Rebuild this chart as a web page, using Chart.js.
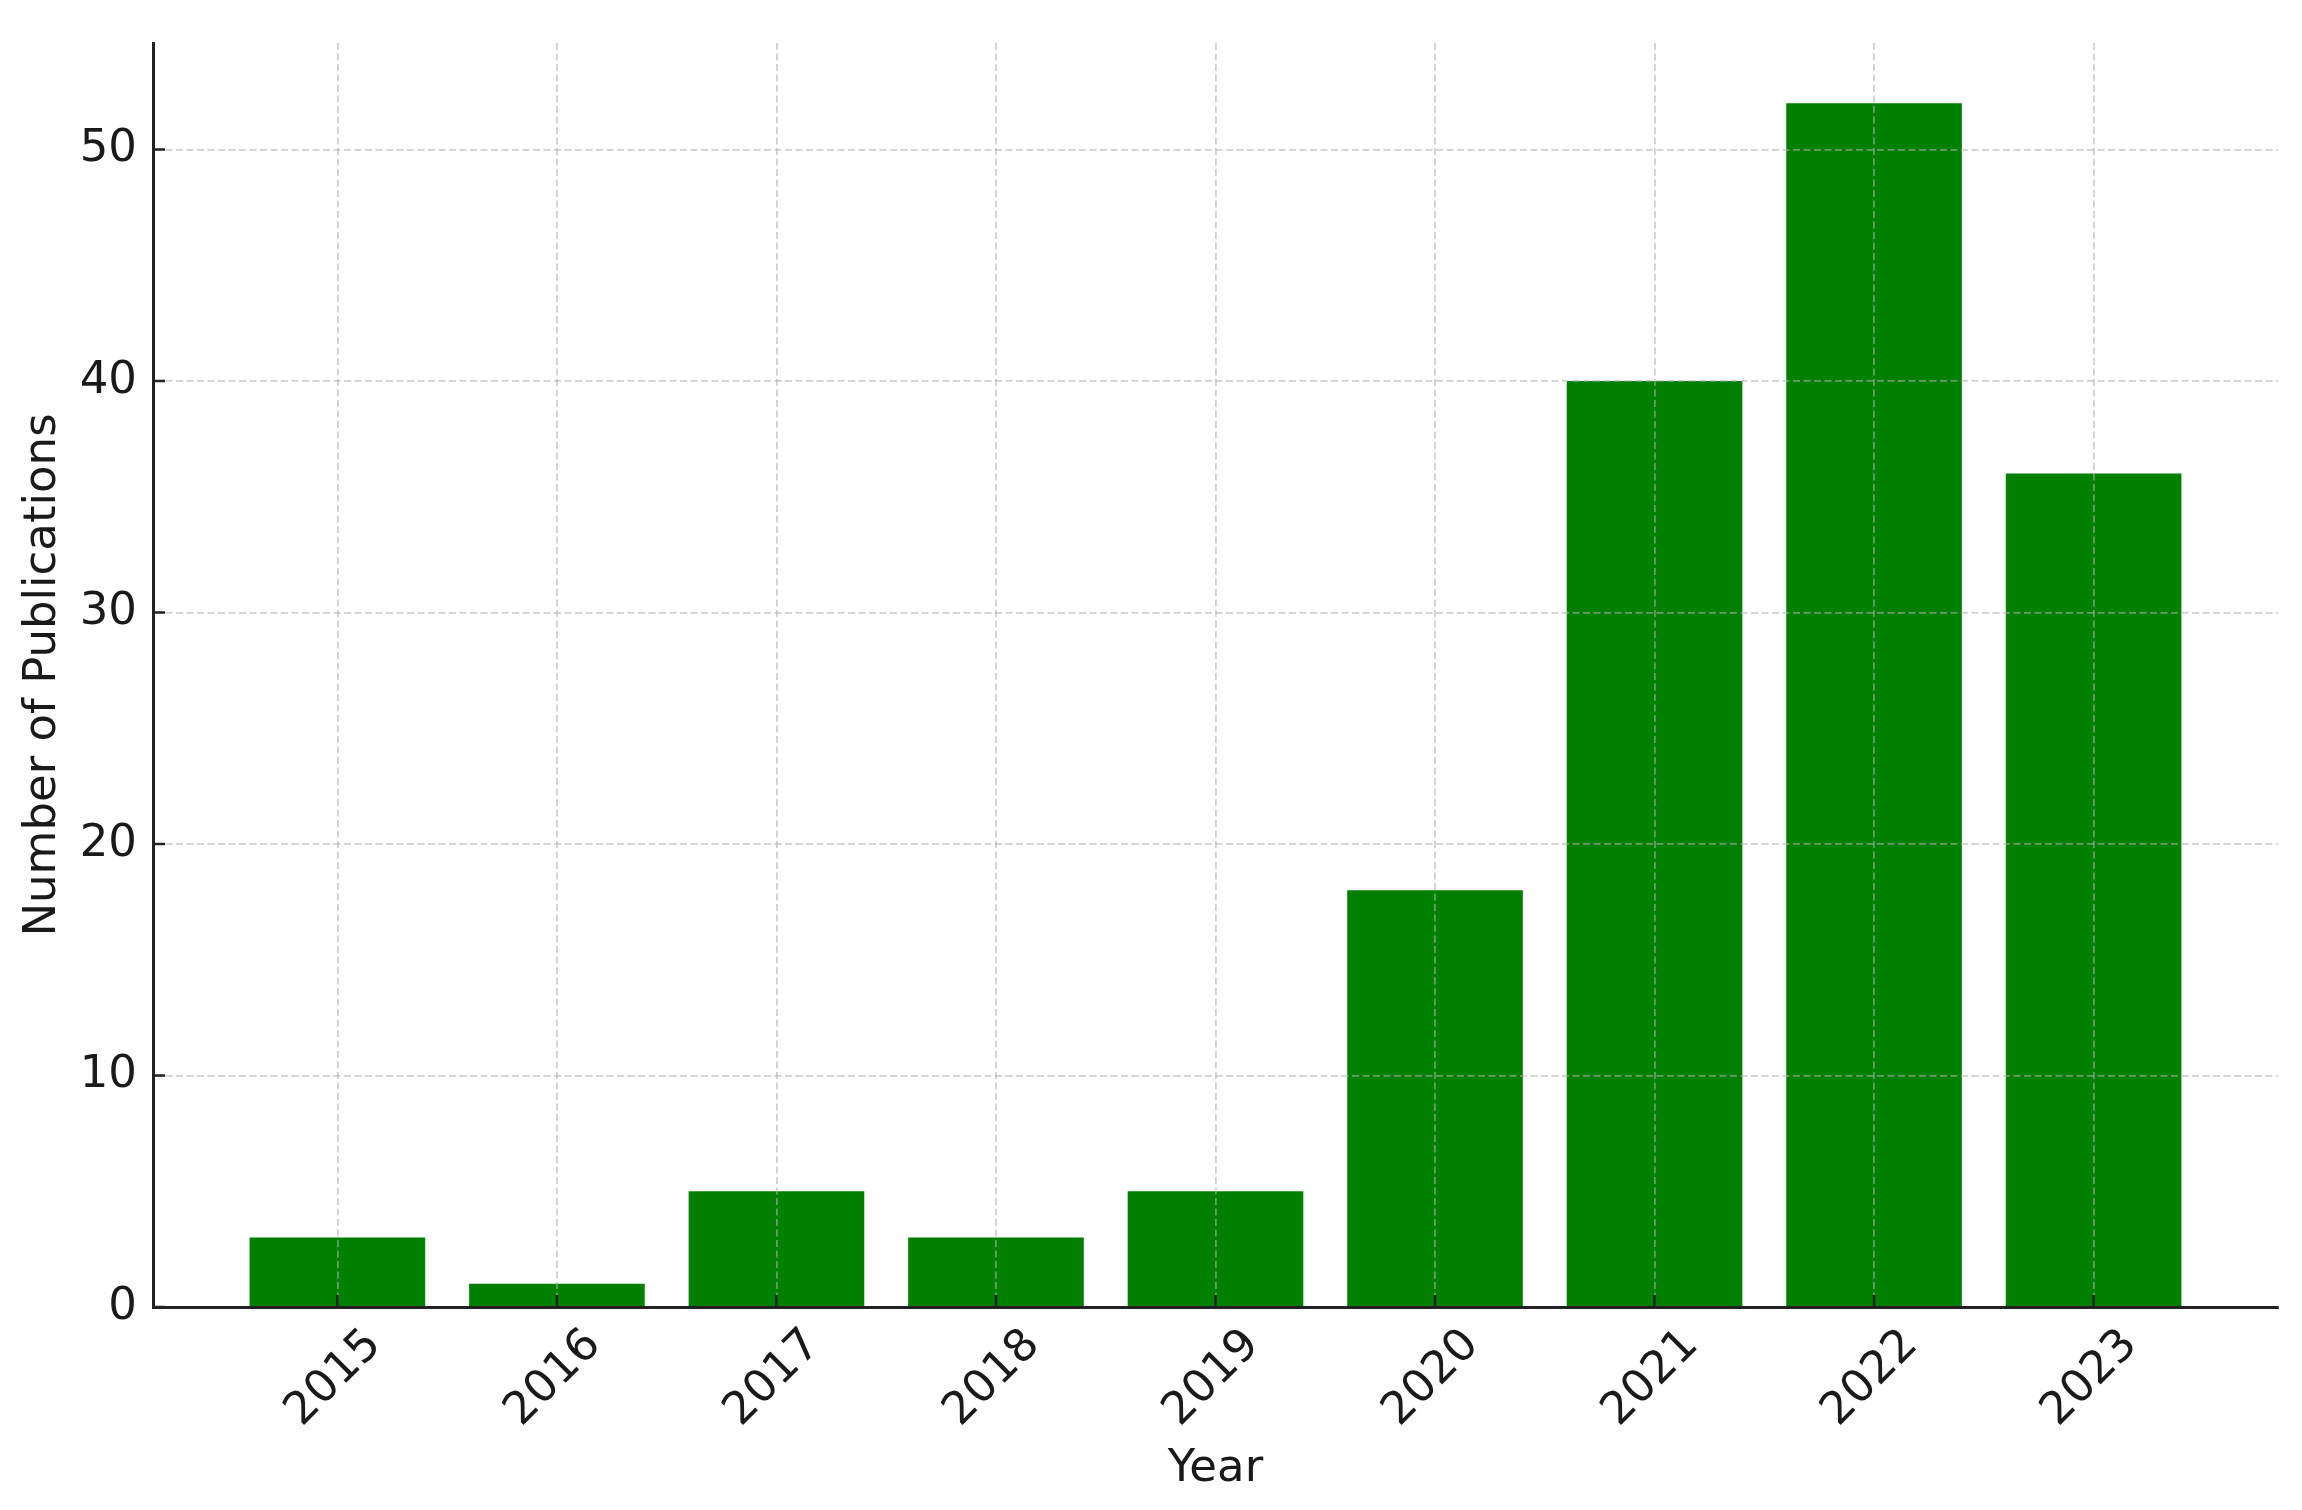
<!DOCTYPE html>
<html>
<head>
<meta charset="utf-8">
<script src="https://cdn.jsdelivr.net/npm/chart.js@4"></script>
<style>
  html, body { margin: 0; padding: 0; background: #fff; }
  #wrap { width: 2302px; height: 1510px; }
</style>
</head>
<body>
<div id="wrap"><canvas id="chart" width="2302" height="1510"></canvas></div>
<script>
// data
const years = [2015, 2016, 2017, 2018, 2019, 2020, 2021, 2022, 2023];
const publications = [3, 1, 5, 3, 5, 18, 40, 52, 36];
const yTicks = [0, 10, 20, 30, 40, 50];

const textColor = '#1a1a1a';
const axisColor = '#222222';
const gridColor = 'rgba(176,176,176,0.6)';
const fontSize = 45;

// small inward tick marks like the original
const innerTicks = {
  id: 'innerTicks',
  afterDraw(chart) {
    const ctx = chart.ctx;
    const area = chart.chartArea;
    const len = 12;
    ctx.save();
    ctx.strokeStyle = axisColor;
    ctx.lineWidth = 2.5;
    ctx.beginPath();
    chart.scales.x.ticks.forEach(t => {
      const px = chart.scales.x.getPixelForValue(t.value);
      ctx.moveTo(px, area.bottom);
      ctx.lineTo(px, area.bottom - len);
    });
    chart.scales.y.ticks.forEach(t => {
      const py = chart.scales.y.getPixelForValue(t.value);
      ctx.moveTo(area.left, py);
      ctx.lineTo(area.left + len, py);
    });
    ctx.stroke();
    ctx.restore();
  }
};

let ctx = document.getElementById('chart').getContext('2d');
chart = new Chart(ctx, {
  type: 'bar',
  data: {
    labels: years,
    datasets: [{
      data: publications,
      backgroundColor: '#008000',
      borderWidth: 0,
      categoryPercentage: 1,
      barPercentage: 0.8
    }]
  },
  options: {
    responsive: false,
    animation: false,
    devicePixelRatio: 1,
    layout: { padding: { top: 38, right: 24, left: 0, bottom: 0 } },
    plugins: {
      legend: { display: false },
      tooltip: { enabled: false }
    },
    scales: {
      x: {
        type: 'linear',
        offset: false,
        min: years[0] - 0.84,
        max: years[years.length - 1] + 0.84,
        afterBuildTicks: s => { s.ticks = years.map(v => ({ value: v })); },
        afterFit: s => { s.height = 203; },
        ticks: {
          callback: v => String(v),
          minRotation: 45,
          maxRotation: 45,
          autoSkip: false,
          labelOffset: 37,
          padding: 12,
          color: textColor,
          font: { family: 'DejaVu Sans', size: fontSize }
        },
        grid: { offset: false, color: gridColor, lineWidth: 1.8, drawTicks: false, z: 1 },
        border: { color: axisColor, width: 3, dash: [7, 3.5], z: 2 },
        title: {
          display: true,
          text: 'Year',
          color: textColor,
          font: { family: 'DejaVu Sans', size: fontSize },
          padding: { top: 0, bottom: 14 }
        }
      },
      y: {
        min: 0,
        max: 54.6,
        afterBuildTicks: s => { s.ticks = yTicks.map(v => ({ value: v })); },
        afterFit: s => { s.width = 153; },
        ticks: {
          padding: 16,
          color: textColor,
          font: { family: 'DejaVu Sans', size: fontSize }
        },
        grid: { color: gridColor, lineWidth: 1.8, drawTicks: false, z: 1 },
        border: { color: axisColor, width: 3, dash: [7, 3.5], z: 2 },
        title: {
          display: true,
          text: 'Number of Publications',
          color: textColor,
          font: { family: 'DejaVu Sans', size: fontSize },
          padding: { top: 16, bottom: 0 }
        }
      }
    }
  },
  plugins: [innerTicks]
});
</script>
</body>
</html>
